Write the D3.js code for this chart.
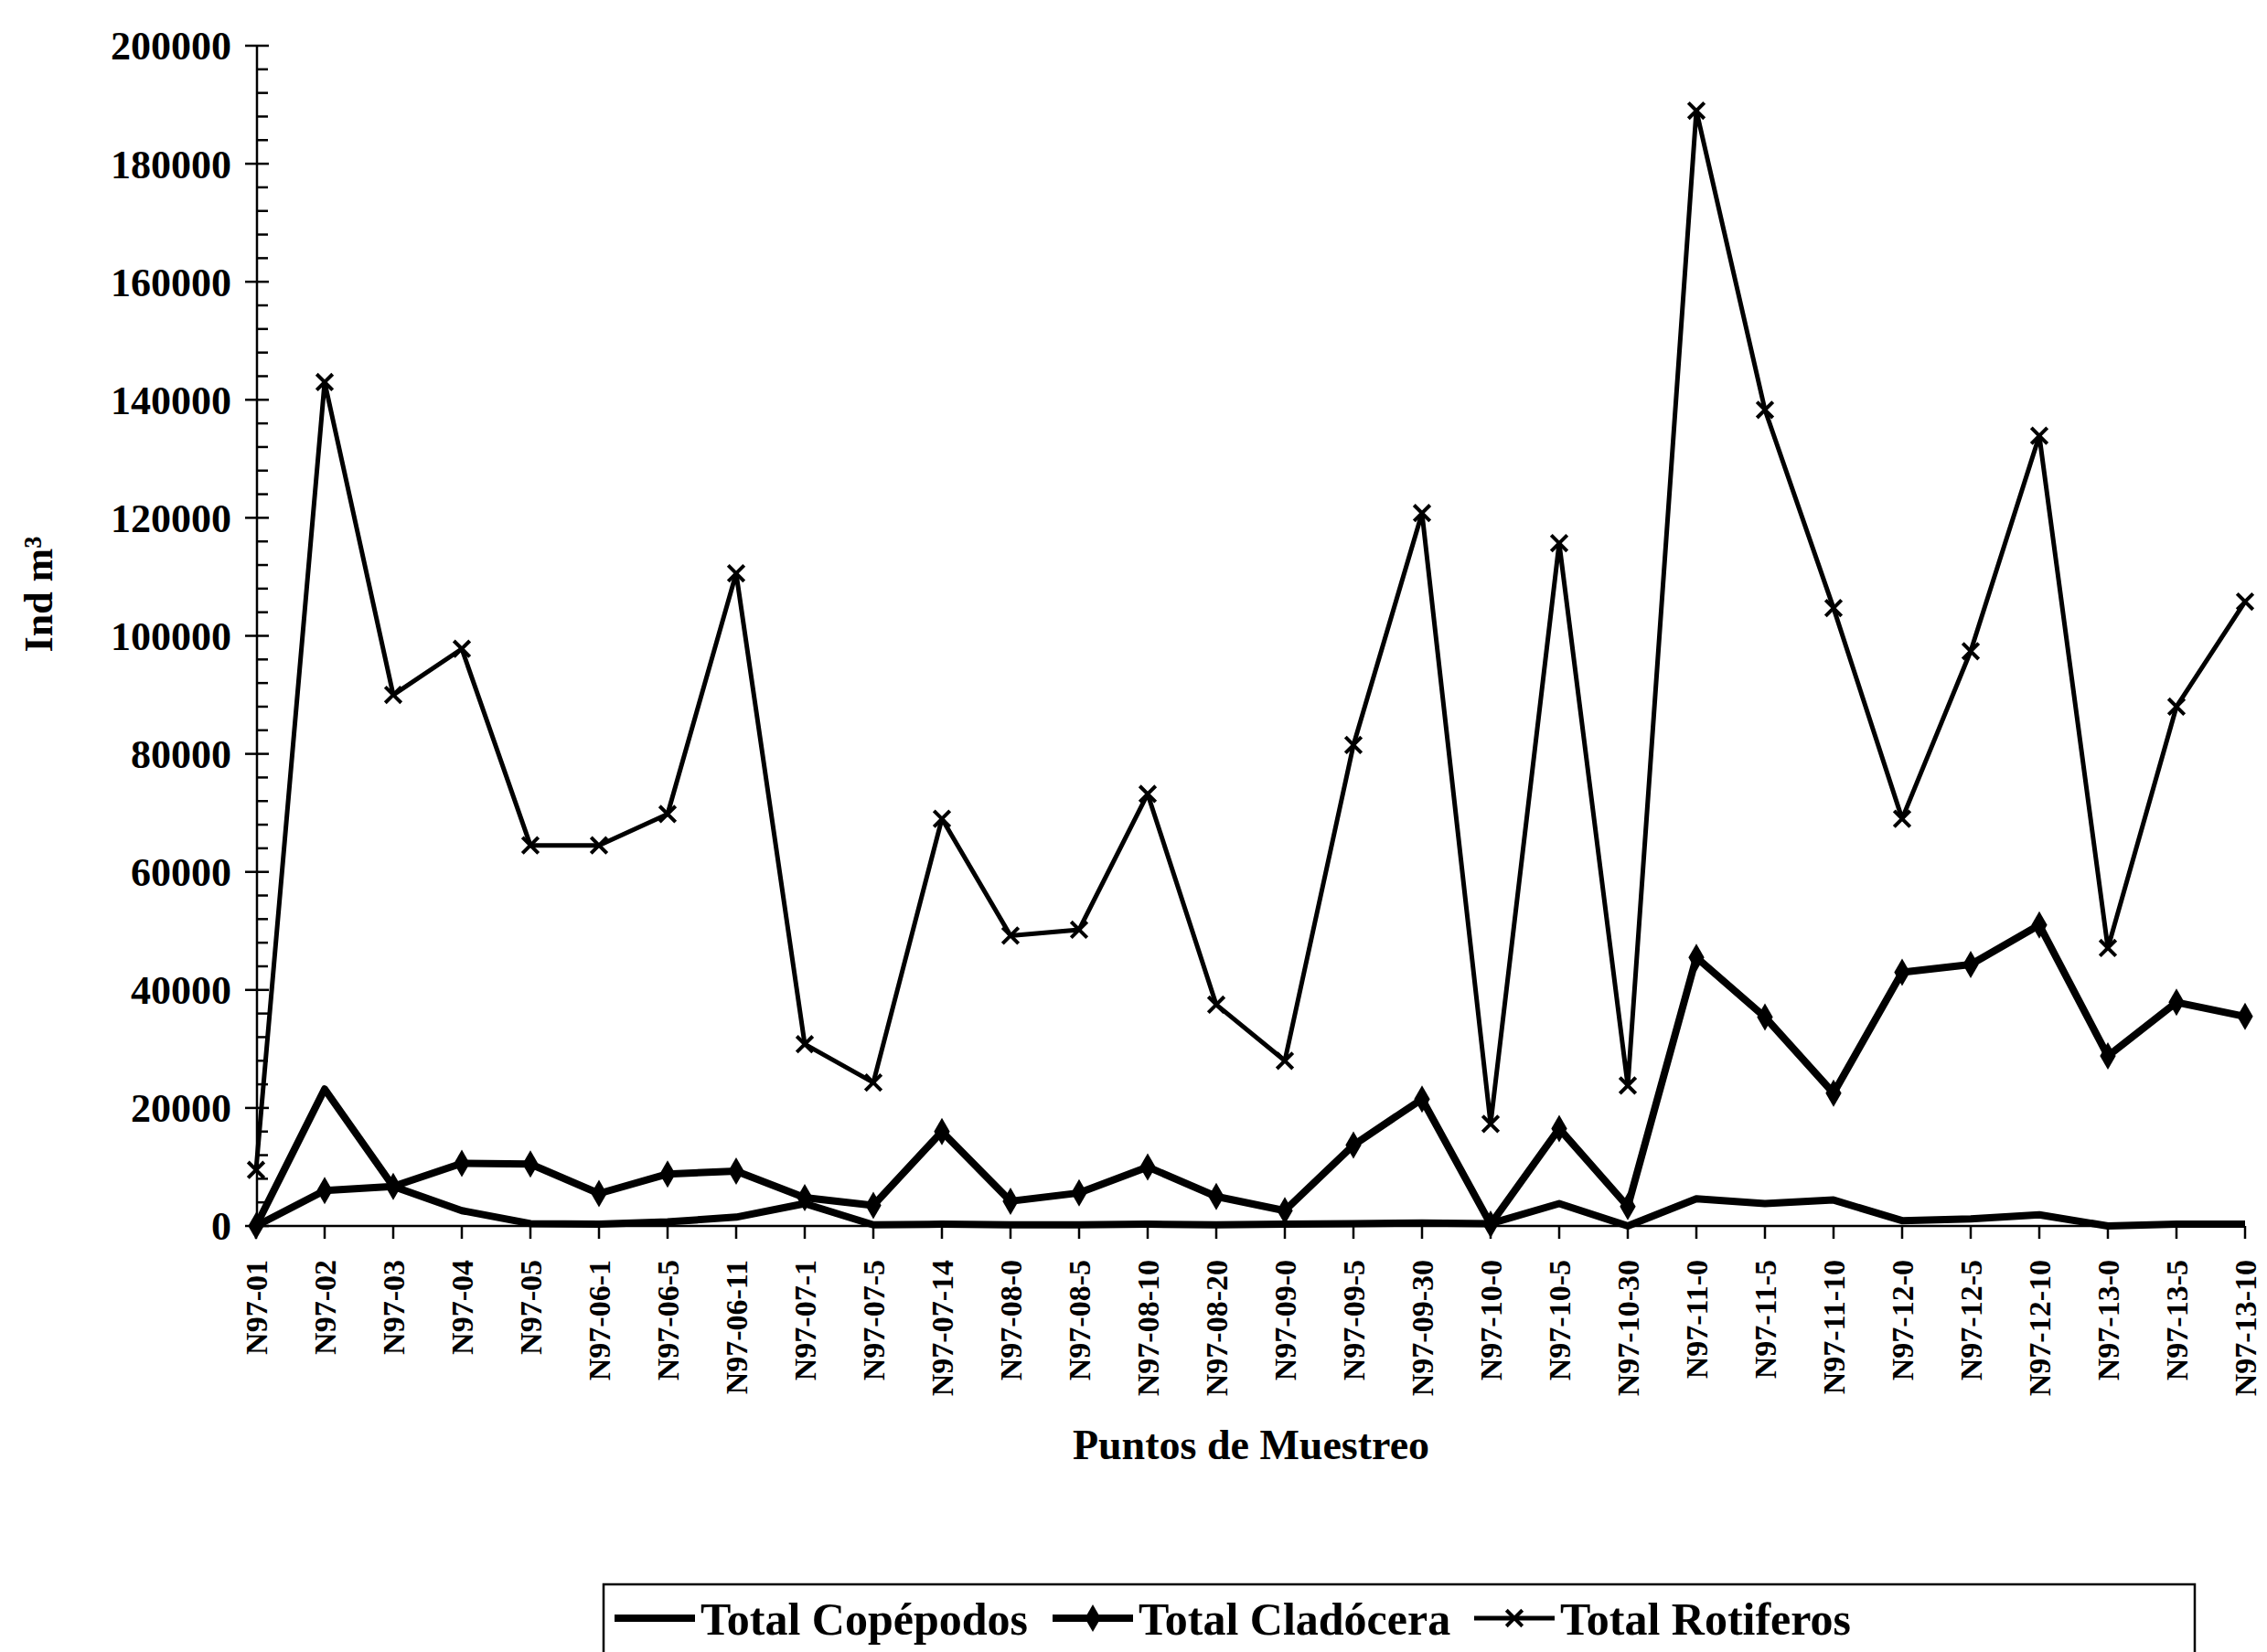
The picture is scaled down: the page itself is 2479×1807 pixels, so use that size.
<!DOCTYPE html>
<html>
<head>
<meta charset="utf-8">
<script src="https://cdn.jsdelivr.net/npm/d3@7"></script>
<style>
  html, body { margin: 0; padding: 0; background: #fff; }
  svg text { font-family: "Liberation Serif", "Times New Roman", serif; font-weight: bold; fill: #000; }
</style>
</head>
<body>
<svg id="chart" width="2479" height="1807"></svg>
<script>
// sampling points
const categories = ["N97-01", "N97-02", "N97-03", "N97-04", "N97-05", "N97-06-1", "N97-06-5", "N97-06-11",
    "N97-07-1", "N97-07-5", "N97-07-14", "N97-08-0", "N97-08-5", "N97-08-10", "N97-08-20", "N97-09-0",
    "N97-09-5", "N97-09-30", "N97-10-0", "N97-10-5", "N97-10-30", "N97-11-0", "N97-11-5", "N97-11-10",
    "N97-12-0", "N97-12-5", "N97-12-10", "N97-13-0", "N97-13-5", "N97-13-10"];

// values (Ind/m3)
const copepodos = [0, 23200, 6700, 2600, 400, 300, 700, 1500, 3800, 200, 300, 200, 200, 300, 200,
    300, 400, 500, 400, 3800, 0, 4600, 3800, 4400, 900, 1200, 1900, 0, 300, 300];
const cladocera = [0, 6000, 6700, 10600, 10500, 5500, 8800, 9300, 4800, 3500, 16000, 4200, 5600, 10000, 5000,
    2600, 13700, 21500, 300, 16500, 3300, 45500, 35400, 22500, 43000, 44300, 51000, 28800, 37900, 35500];
const rotiferos = [9500, 143000, 90000, 97800, 64500, 64500, 69800, 110600, 30800, 24300, 69000, 49200, 50200, 73200, 37500,
    28000, 81500, 120800, 17300, 115700, 23800, 189000, 138300, 104700, 69000, 97400, 133900, 47100, 88000, 105800];

const yTicks = [0, 20000, 40000, 60000, 80000, 100000, 120000, 140000, 160000, 180000, 200000];
const seriesNames = ["Total Copépodos", "Total Cladócera", "Total Rotiferos"];

const svg = d3.select("#chart");

const x = d3.scalePoint().domain(categories).range([280, 2455]);
const y = d3.scaleLinear().domain([0, 200000]).range([1341, 50]);

// y axis: crossing major ticks, minor ticks on the right
const gy = svg.append("g");
gy.append("line")
    .attr("x1", 281).attr("x2", 281)
    .attr("y1", y(200000)).attr("y2", y(0))
    .attr("stroke", "#000").attr("stroke-width", 2.5);

const minor = d3.range(0, 200001, 4000).filter(v => v % 20000 !== 0);
gy.selectAll("line.minor").data(minor).enter().append("line")
    .attr("class", "minor")
    .attr("x1", 281).attr("x2", 293)
    .attr("y1", d => y(d)).attr("y2", d => y(d))
    .attr("stroke", "#000").attr("stroke-width", 2.5);

gy.selectAll("line.major").data(yTicks).enter().append("line")
    .attr("class", "major")
    .attr("x1", 268).attr("x2", 294)
    .attr("y1", d => y(d)).attr("y2", d => y(d))
    .attr("stroke", "#000").attr("stroke-width", 2.5);

gy.selectAll("text").data(yTicks).enter().append("text")
    .attr("x", 253)
    .attr("y", d => y(d))
    .attr("dy", "0.35em")
    .attr("text-anchor", "end")
    .style("font-size", "44px")
    .text(d => d);

// x axis
const gx = svg.append("g");
gx.append("line")
    .attr("x1", 280).attr("x2", 2455)
    .attr("y1", y(0)).attr("y2", y(0))
    .attr("stroke", "#000").attr("stroke-width", 2.5);

gx.selectAll("line.tick").data(categories).enter().append("line")
    .attr("class", "tick")
    .attr("x1", d => x(d)).attr("x2", d => x(d))
    .attr("y1", y(0)).attr("y2", y(0) + 14)
    .attr("stroke", "#000").attr("stroke-width", 2.5);

gx.selectAll("text").data(categories).enter().append("text")
    .attr("transform", d => "translate(" + x(d) + ",1378) rotate(-90)")
    .attr("dy", "0.35em")
    .attr("text-anchor", "end")
    .style("font-size", "34px")
    .text(d => d);

// axis titles
svg.append("text")
    .attr("x", 1368).attr("y", 1596)
    .attr("text-anchor", "middle")
    .style("font-size", "46px")
    .text("Puntos de Muestreo");

svg.append("text")
    .attr("transform", "translate(42,650) rotate(-90)")
    .attr("dy", "0.35em")
    .attr("text-anchor", "middle")
    .style("font-size", "44px")
    .text("Ind m³");

// lines
const line = d3.line()
    .x((d, i) => x(categories[i]))
    .y(d => y(d));

svg.append("path").datum(rotiferos)
    .attr("fill", "none").attr("stroke", "#000").attr("stroke-width", 5)
    .attr("stroke-linejoin", "round")
    .attr("d", line);

svg.append("path").datum(cladocera)
    .attr("fill", "none").attr("stroke", "#000").attr("stroke-width", 8)
    .attr("stroke-linejoin", "round")
    .attr("d", line);

svg.append("path").datum(copepodos)
    .attr("fill", "none").attr("stroke", "#000").attr("stroke-width", 8)
    .attr("stroke-linejoin", "round")
    .attr("d", line);

// markers
const diamond = d3.symbol().type(d3.symbolDiamond).size(260);
svg.selectAll("path.clad").data(cladocera).enter().append("path")
    .attr("class", "clad")
    .attr("transform", (d, i) => "translate(" + x(categories[i]) + "," + y(d) + ")")
    .attr("d", diamond)
    .attr("fill", "#000");

const cross = d3.symbol().type(d3.symbolX).size(200);
svg.selectAll("path.rot").data(rotiferos).enter().append("path")
    .attr("class", "rot")
    .attr("transform", (d, i) => "translate(" + x(categories[i]) + "," + y(d) + ")")
    .attr("d", cross)
    .attr("fill", "none")
    .attr("stroke", "#000")
    .attr("stroke-width", 4);

// legend
const lg = svg.append("g");
lg.append("rect")
    .attr("x", 660).attr("y", 1733)
    .attr("width", 1740).attr("height", 120)
    .attr("fill", "none").attr("stroke", "#000").attr("stroke-width", 2.5);

const itemX = [672, 1151, 1612];
const legendY = 1770;
seriesNames.forEach((name, i) => {
    const g = lg.append("g").attr("transform", "translate(" + itemX[i] + "," + legendY + ")");
    g.append("line")
        .attr("x1", 0).attr("x2", 88)
        .attr("y1", 0).attr("y2", 0)
        .attr("stroke", "#000").attr("stroke-width", i === 2 ? 5 : 8);
    if (i === 1) {
        g.append("path").attr("transform", "translate(44,0)").attr("d", diamond).attr("fill", "#000");
    }
    if (i === 2) {
        g.append("path").attr("transform", "translate(44,0)").attr("d", cross)
            .attr("fill", "none").attr("stroke", "#000").attr("stroke-width", 4);
    }
    g.append("text")
        .attr("x", 94).attr("y", 0)
        .attr("dy", "0.35em")
        .style("font-size", "50px")
        .text(name);
});
</script>
</body>
</html>
